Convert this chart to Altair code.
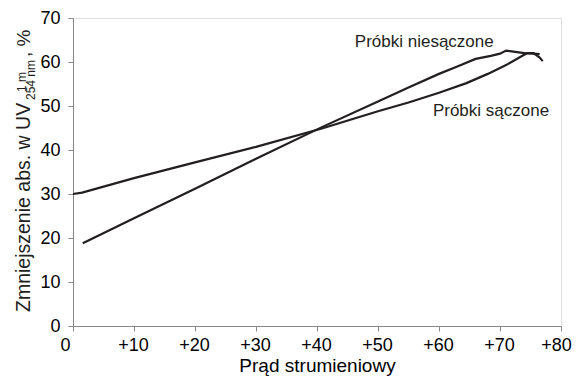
import altair as alt
import pandas as pd

# --- data ---
x_ticks = [0, 10, 20, 30, 40, 50, 60, 70, 80]
y_ticks = [0, 10, 20, 30, 40, 50, 60, 70]

# Próbki niesączone (steeper curve)
n_x = [1.6, 10, 20, 30, 40.8, 50, 55, 60, 63, 66, 68.5, 70, 71, 72.5, 74, 75.5, 76.5]
n_y = [18.8, 24.5, 31.2, 38.0, 45.2, 51.0, 54.2, 57.3, 59.0, 60.7, 61.4, 61.9, 62.6, 62.3, 62.0, 61.9, 61.8]

# Próbki sączone (flatter curve)
s_x = [0, 1.5, 10, 20, 30, 40.8, 50, 55, 60, 64.5, 68, 71, 74.4, 75.5, 76.5, 77]
s_y = [30.0, 30.3, 33.6, 37.2, 40.7, 44.9, 48.8, 50.8, 53.0, 55.2, 57.3, 59.3, 62.0, 62.0, 61.0, 60.2]

label_text = ["Próbki niesączone", "Próbki sączone"]
label_x = [46.2, 59.0]
label_y = [63.3, 47.8]

FONT = "Liberation Sans"
INK = "#231f20"
FRAME = "#555555"

df = pd.DataFrame(
    {"x": n_x + s_x, "y": n_y + s_y,
     "series": ["niesączone"] * len(n_x) + ["sączone"] * len(s_x)}
)
labels = pd.DataFrame({"t": label_text, "x": label_x, "y": label_y})

xscale = alt.Scale(domain=[0, 80], nice=False, zero=False)
yscale = alt.Scale(domain=[0, 70], nice=False, zero=False)

x_label_offset = {
    "condition": [
        {"test": "datum.value == 0", "value": -8},
        {"test": "datum.value == 80", "value": -5},
    ],
    "value": -1,
}

lines = alt.Chart(df).mark_line(color=INK, strokeWidth=2.2).encode(
    x=alt.X("x:Q", scale=xscale,
            axis=alt.Axis(values=x_ticks, title="Prąd strumieniowy", grid=False,
                          tickSize=5, labelPadding=5, titlePadding=2, labelFlush=False,
                          labelOffset=x_label_offset,
                          labelExpr="datum.value == 0 ? '0' : '+' + datum.value",
                          labelFontSize=18, titleFontSize=19, titleFontWeight="normal")),
    y=alt.Y("y:Q", scale=yscale,
            axis=alt.Axis(values=y_ticks, title=None, grid=False, tickSize=5,
                          labelPadding=8, labelFontSize=18)),
    detail="series:N",
    order="x:Q",
)

texts = alt.Chart(labels).mark_text(
    align="left", baseline="alphabetic", fontSize=17, font=FONT, color=INK
).encode(x=alt.X("x:Q", scale=xscale), y=alt.Y("y:Q", scale=yscale), text="t:N")

dummy = alt.Data(values=[{}])


def piece(txt, px, py, size):
    return alt.Chart(dummy).mark_text(
        text=txt, angle=270, align="left", baseline="alphabetic",
        fontSize=size, font=FONT, color=INK
    ).encode(x=alt.value(px), y=alt.value(py))


title_main = piece("Zmniejszenie abs. w UV", -43, 294, 19.5)
title_sub = piece("254 nm", -38, 82, 12)
title_sup = piece("1 m", -47, 74, 12)
title_end = piece(", %", -43, 39, 19)

chart = alt.layer(lines, texts, title_main, title_sub, title_sup, title_end).properties(
    width=488, height=308,
    padding={"left": 73, "top": 18, "right": 15, "bottom": 52},
    autosize=alt.AutoSizeParams(type="none"),
).configure_view(stroke=FRAME, strokeWidth=1.5).configure_axis(
    domainColor=FRAME, domainWidth=1.5, tickColor=FRAME, tickWidth=1.5,
    labelColor=INK, titleColor=INK, labelFont=FONT, titleFont=FONT,
).configure(background="white")

chart.save("out.html", embed_options={"renderer": "svg", "actions": False})
